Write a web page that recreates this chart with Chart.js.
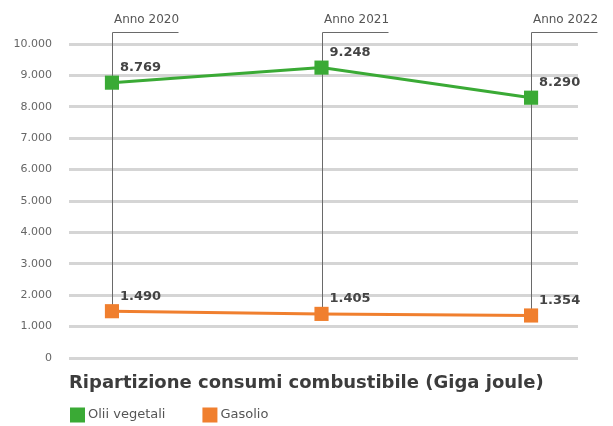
<!DOCTYPE html>
<html>
<head>
<meta charset="utf-8">
<script src="https://cdn.jsdelivr.net/npm/chart.js@4/dist/chart.umd.min.js"></script>
<style>
html,body{margin:0;padding:0;background:#fff;}
#wrap{width:613px;height:426px;position:relative;}
</style>
</head>
<body>
<div id="wrap"><canvas id="c" width="613" height="426"></canvas></div>
<script>
const years = ['Anno 2020', 'Anno 2021', 'Anno 2022'];
const seriesNames = ['Olii vegetali', 'Gasolio'];
const oliiVegetali = [8769, 9248, 8290];
const gasolio = [1490, 1405, 1354];
const yTickValues = [0, 1000, 2000, 3000, 4000, 5000, 6000, 7000, 8000, 9000, 10000];
const chartTitle = 'Ripartizione consumi combustibile (Giga joule)';

const GREEN = '#3aaa35';
const ORANGE = '#f07f2e';
const FONT = "'DejaVu Sans', 'Open Sans', sans-serif";

function fmt(v) {
  return String(v).replace(/\B(?=(\d{3})+(?!\d))/g, '.');
}

const annotPlugin = {
  id: 'annot',
  beforeDatasetsDraw(chart) {
    const ctx = chart.ctx;
    const xs = chart.scales.x;
    const lowMeta = chart.getDatasetMeta(1);
    ctx.save();
    ctx.strokeStyle = '#6a6a6a';
    ctx.lineWidth = 1;
    ctx.fillStyle = '#555';
    ctx.font = '12px ' + FONT;
    ctx.textAlign = 'center';
    ctx.textBaseline = 'middle';
    years.forEach((y, i) => {
      const px = Math.round(xs.getPixelForValue(i)) + 0.5;
      const bottom = lowMeta.data[i].y;
      ctx.beginPath();
      ctx.moveTo(px, bottom);
      ctx.lineTo(px, 32.5);
      ctx.lineTo(px + 66, 32.5);
      ctx.stroke();
      ctx.fillText(y, px + 34, 20);
    });
    ctx.restore();
  },
  afterDatasetsDraw(chart) {
    const ctx = chart.ctx;
    ctx.save();
    ctx.fillStyle = '#444';
    ctx.font = 'bold 13px ' + FONT;
    ctx.textAlign = 'left';
    ctx.textBaseline = 'middle';
    chart.data.datasets.forEach((ds, di) => {
      const meta = chart.getDatasetMeta(di);
      meta.data.forEach((pt, i) => {
        ctx.fillText(fmt(ds.data[i].y), pt.x + 8, pt.y - 15);
      });
    });
    ctx.restore();
  },
  afterDraw(chart) {
    const ctx = chart.ctx;
    ctx.save();
    ctx.font = '13px ' + FONT;
    ctx.textBaseline = 'middle';
    ctx.textAlign = 'left';
    let x = 70;
    const yc = 415;
    chart.data.datasets.forEach((ds) => {
      ctx.fillStyle = ds.borderColor;
      ctx.fillRect(x, yc - 7.5, 15, 15);
      ctx.fillStyle = '#555';
      ctx.fillText(ds.label, x + 18, yc);
      x += 18 + ctx.measureText(ds.label).width + 37;
    });
    ctx.restore();
  }
};

new Chart(document.getElementById('c'), {
  type: 'line',
  data: {
    datasets: [
      {
        label: seriesNames[0],
        data: oliiVegetali.map((v, i) => ({x: i, y: v})),
        borderColor: GREEN,
        backgroundColor: GREEN,
        borderWidth: 3,
        pointStyle: 'rect',
        pointRadius: 10,
        pointBorderWidth: 0,
        tension: 0
      },
      {
        label: seriesNames[1],
        data: gasolio.map((v, i) => ({x: i, y: v})),
        borderColor: ORANGE,
        backgroundColor: ORANGE,
        borderWidth: 3,
        pointStyle: 'rect',
        pointRadius: 10,
        pointBorderWidth: 0,
        tension: 0
      }
    ]
  },
  options: {
    responsive: false,
    animation: false,
    devicePixelRatio: 1,
    layout: { padding: { top: 44, right: 35, bottom: 0, left: 0 } },
    scales: {
      x: {
        type: 'linear',
        display: false,
        min: -0.205,
        max: 2.224
      },
      y: {
        min: 0,
        max: 10000,
        afterFit(s) { s.width = 69; },
        afterBuildTicks(s) { s.ticks = yTickValues.map(v => ({value: v})); },
        border: { display: false },
        grid: { color: '#d5d5d5', lineWidth: 3, drawTicks: false },
        ticks: {
          padding: 17,
          color: '#666',
          font: { family: FONT, size: 11 },
          callback: (v) => fmt(v)
        }
      }
    },
    plugins: {
      legend: { display: false },
      tooltip: { enabled: false },
      title: {
        display: true,
        text: chartTitle,
        position: 'bottom',
        align: 'start',
        fullSize: false,
        color: '#3c3c3c',
        font: { family: FONT, size: 18, weight: 'bold' },
        padding: { top: 15, bottom: 31.4 }
      }
    }
  },
  plugins: [annotPlugin]
});
</script>
</body>
</html>
